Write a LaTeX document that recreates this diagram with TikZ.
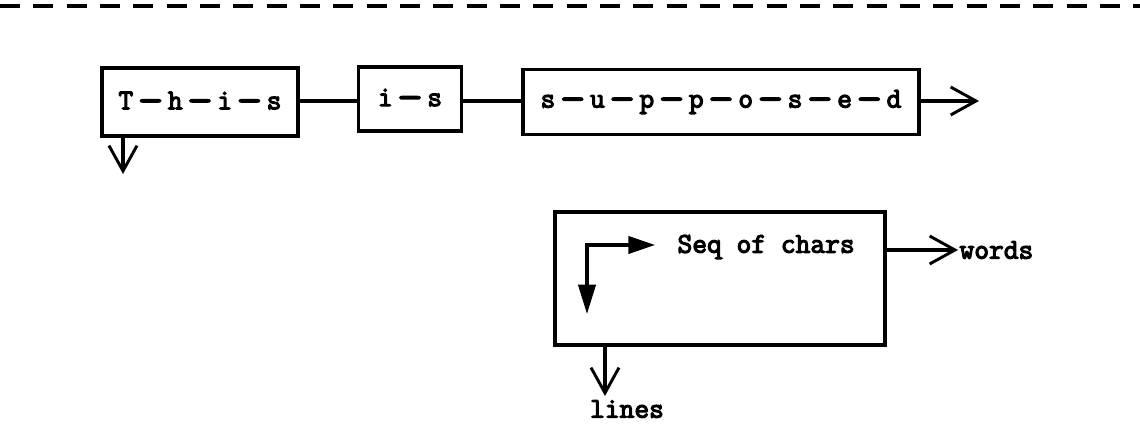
\documentclass[tikz,border=0pt]{standalone}
\usepackage{fontspec}
\newfontfamily\tw{Latin Modern Mono}[FakeBold=4]
\usetikzlibrary{arrows.meta}
\newcommand\dl{\makebox[26pt]{\raisebox{-2.2pt}{\scalebox{1.7}[1.3]{-}}}}
\begin{document}
\begin{tikzpicture}[x=0.75pt,y=-0.75pt,line width=2.3pt,
  txt/.style={inner sep=0pt,font=\tw\fontsize{21.5}{25}\selectfont},
  box/.style={txt,draw,line width=2.4pt},
  open/.style={-{Straight Barb[length=19pt,width=21pt,line width=2.2pt]}}]
\useasboundingbox (0,0) rectangle (1140,427);
\draw[line width=3pt,dash pattern=on 15pt off 10pt] (0,6) -- (1140,6);
\node[box,minimum width={196*0.75pt},minimum height={68*0.75pt}] (b1) at (200,102) {T\dl h\dl i\dl s\hspace{10pt}};
\node[box,minimum width={103*0.75pt},minimum height={64*0.75pt}] (b2) at (410,99) {i\dl s\hspace{8pt}};
\node[box,minimum width={396*0.75pt},minimum height={65*0.75pt}] (b3) at (721,102) {s\dl u\dl p\dl p\dl o\dl s\dl e\dl d};
\coordinate (c1) at (123,174);
\coordinate (c3) at (979,101);
\draw (b1.east |- 0,101) -- (b2.west |- 0,101);
\draw (b2.east |- 0,101) -- (b3.west |- 0,101);
\draw[open] (b3.east |- c3) -- (c3);
\draw[open] (b1.south -| c1) -- (c1);
\node[box,minimum width={330*0.75pt},minimum height={133*0.75pt}] (b4) at (720,278.5) {};
\coordinate (e1) at (587,314);
\coordinate (e2) at (655,245);
\draw[{Triangle[length=22pt,width=13pt]}-{Triangle[length=20pt,width=13pt]}] (e1) |- (e2);
\node[txt,anchor=west] (seq) at (676,247) {Seq of chars};
\node[txt,anchor=west] (words) at (958,250) {words};
\draw[open] (b4.east |- words.west) -- (words.west);
\node[txt] (lines) at (627,409) {lines};
\coordinate (c4) at (605,396);
\draw[open] (b4.south -| c4) -- (c4);
\end{tikzpicture}
\end{document}
